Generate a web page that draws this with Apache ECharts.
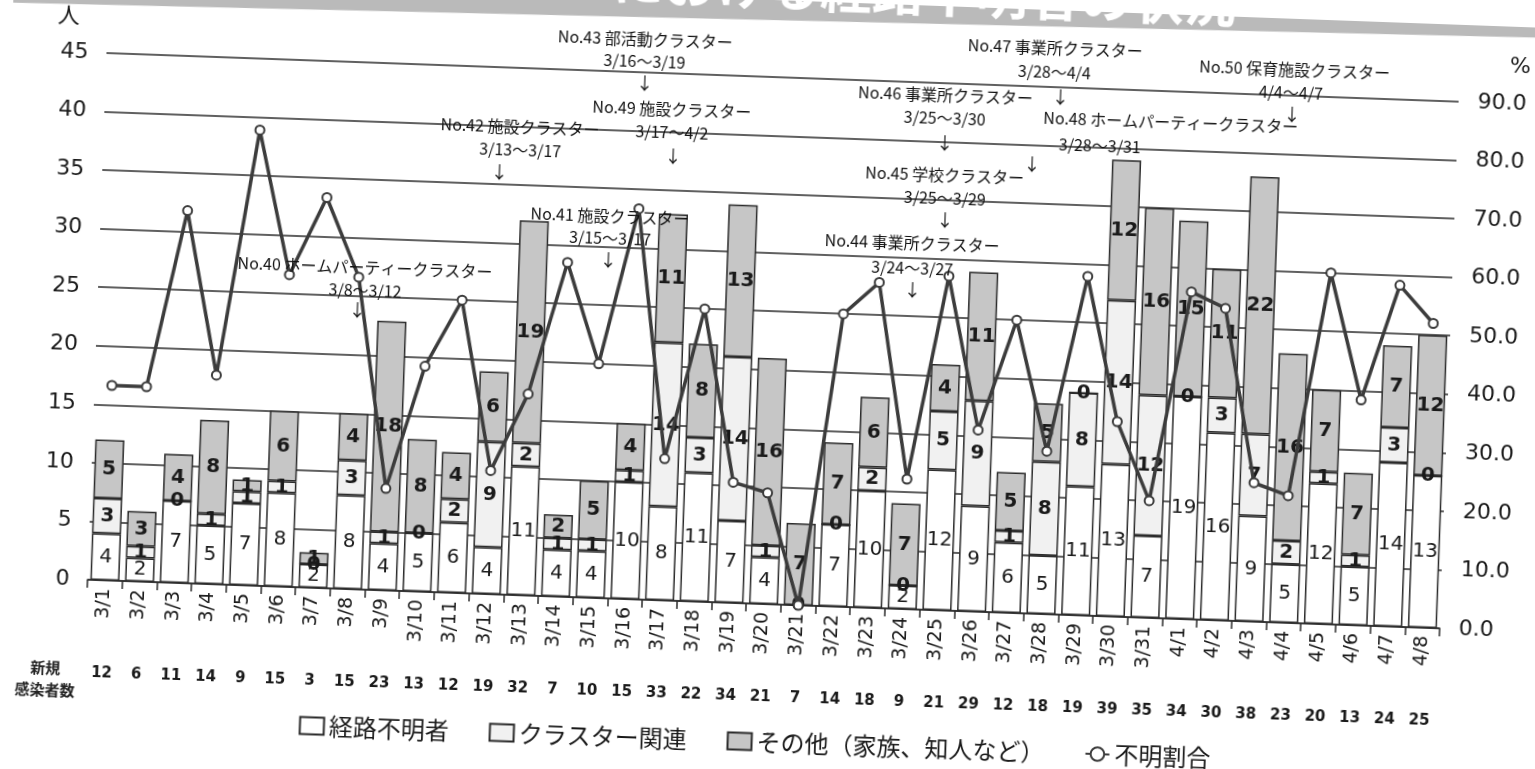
<!DOCTYPE html>
<html><head><meta charset="utf-8">
<script src="https://cdn.jsdelivr.net/npm/echarts@6/dist/echarts.min.js"></script>
<style>
html,body{margin:0;padding:0;background:#fff;overflow:hidden}
#c{width:1535px;height:769px;transform:rotate(2.06deg);transform-origin:767px 384px}
</style>
</head><body><div id="c"></div>
<script>
const categories = ['3/1','3/2','3/3','3/4','3/5','3/6','3/7','3/8','3/9','3/10','3/11','3/12','3/13','3/14','3/15','3/16','3/17','3/18','3/19','3/20','3/21','3/22','3/23','3/24','3/25','3/26','3/27','3/28','3/29','3/30','3/31','4/1','4/2','4/3','4/4','4/5','4/6','4/7','4/8'];
const unknownCases = [4,2,7,5,7,8,2,8,4,5,6,4,11,4,4,10,8,11,7,4,0,7,10,2,12,9,6,5,11,13,7,19,16,9,5,12,5,14,13];
const clusterCases = [3,1,0,1,1,1,0,3,1,0,2,9,2,1,1,1,14,3,14,1,0,0,2,0,5,9,1,8,8,14,12,0,3,7,2,1,1,3,0];
const otherCases   = [5,3,4,8,1,6,1,4,18,8,4,6,19,2,5,4,11,8,13,16,7,7,6,7,4,11,5,5,0,12,16,15,11,22,16,7,7,7,12];
const unknownRatio = [33.3,33.3,63.6,35.7,77.8,53.3,66.7,53.3,17.4,38.5,50.0,21.1,34.4,57.1,40.0,66.7,24.2,50.0,20.6,19.0,0.0,50.0,55.6,22.2,57.1,31.0,50.0,27.8,57.9,33.3,20.0,55.9,53.3,23.7,21.7,60.0,38.5,58.3,52.0];
const newCases     = [12,6,11,14,9,15,3,15,23,13,12,19,32,7,10,15,33,22,34,21,7,14,18,9,21,29,12,18,19,39,35,34,30,38,23,20,13,24,25];
const seriesNames  = ['経路不明者','クラスター関連','その他（家族、知人など）','不明割合'];
const annotationTitles = ['No.40 ホームパーティークラスター','No.41 施設クラスター','No.42 施設クラスター','No.43 部活動クラスター','No.44 事業所クラスター','No.45 学校クラスター','No.46 事業所クラスター','No.47 事業所クラスター','No.48 ホームパーティークラスター','No.49 施設クラスター','No.50 保育施設クラスター'];
const annotationDates  = ['3/8～3/12','3/15～3/17','3/13～3/17','3/16～3/19','3/24～3/27','3/25～3/29','3/25～3/30','3/28～4/4','3/28～3/31','3/17～4/2','4/4～4/7'];
// layout: [titleX,titleY,dateX,dateY,arrowX,arrowY]
const annotationLayout = [
  [361,282,362,305,355,325],
  [604,222,605,244,604,266],
  [511,136,512,159,492,182],
  [633,44,633,66,634,88],
  [907,238,908,263,909,285],
  [937,169,938,192,939,214],
  [935,89,935,112,936,137],
  [1043,38,1043,62,1050,87],
  [1161,108,1091,134,1024,155],
  [662,113,663,136,665,160],
  [1283,51,1280,74,1282,96]
];

const NUM_FONT = 'DejaVu Sans';
const JP_FONT = '"Noto Sans CJK JP"';

const graphics = [];
graphics.push({type:'rect', z:1, originX:767, originY:20, rotation:0.013,
  shape:{x:-200,y:-120,width:2000,height:140}, style:{fill:'#bababa'}});
graphics.push({type:'text', z:2, x:1222, y:-14, style:{text:'における経路不明者の状況', fill:'#ffffff',
  font:'bold 52px ' + JP_FONT, textAlign:'right', textVerticalAlign:'middle'}});
graphics.push({type:'text', z:2, x:56, y:693, style:{text:'新規', fill:'#222', font:'bold 15px ' + JP_FONT, textAlign:'center', textVerticalAlign:'middle'}});
graphics.push({type:'text', z:2, x:56, y:715, style:{text:'感染者数', fill:'#222', font:'bold 15px ' + JP_FONT, textAlign:'center', textVerticalAlign:'middle'}});
annotationTitles.forEach((t,i)=>{
  const L = annotationLayout[i];
  graphics.push({type:'text', z:50, x:L[0], y:L[1], style:{text:t, fill:'#111', font:'16px ' + JP_FONT, textAlign:'center', textVerticalAlign:'middle'}});
  graphics.push({type:'text', z:50, x:L[2], y:L[3], style:{text:annotationDates[i], fill:'#111', font:'16px ' + JP_FONT, textAlign:'center', textVerticalAlign:'middle'}});
  graphics.push({type:'text', z:50, x:L[4], y:L[5], style:{text:'↓', fill:'#111', font:'17px ' + JP_FONT, textAlign:'center', textVerticalAlign:'middle'}});
});

const barCommon = {
  type:'bar', stack:'total', barWidth:'84%',
  label:{show:true, position:'inside', color:'#1a1a1a', fontFamily:NUM_FONT, fontSize:20}
};

const chart = echarts.init(document.getElementById('c'), null, {renderer:'canvas'});
chart.setOption({
  animation:false,
  backgroundColor:'#ffffff',
  grid:{left:95, right:87, top:77, bottom:165},
  legend:{
    data:[{name:seriesNames[0], icon:'rect'},{name:seriesNames[1], icon:'rect'},{name:seriesNames[2], icon:'rect'},{name:seriesNames[3]}],
    bottom:10, left:'center', itemGap:40, itemWidth:24, itemHeight:17,
    textStyle:{fontFamily:JP_FONT, fontSize:24, color:'#1a1a1a'}
  },
  xAxis:[{
    type:'category', data:categories, position:'bottom',
    axisLine:{lineStyle:{color:'#2b2b2b', width:1.5}},
    axisTick:{show:true, length:8, lineStyle:{color:'#2b2b2b', width:1.5}},
    axisLabel:{rotate:90, interval:0, margin:8, fontFamily:NUM_FONT, fontSize:19, color:'#1a1a1a'}
  },{
    type:'category', data:categories, position:'bottom', offset:86,
    axisLine:{show:false}, axisTick:{show:false},
    axisLabel:{interval:0, margin:0, fontFamily:NUM_FONT, fontWeight:'bold', fontSize:15, color:'#1a1a1a',
      formatter:(v,i)=>String(newCases[i])}
  }],
  yAxis:[{
    type:'value', min:0, max:45, interval:5, name:'人', nameLocation:'end', nameGap:26,
    nameTextStyle:{fontFamily:JP_FONT, fontSize:22, color:'#1a1a1a', align:'right', padding:[0,28,0,0]},
    axisLine:{show:false}, axisTick:{show:false},
    axisLabel:{margin:18, fontFamily:NUM_FONT, fontSize:22, color:'#1a1a1a'},
    splitLine:{show:true, lineStyle:{color:'#2b2b2b', width:1.5}}
  },{
    type:'value', min:0, max:90, interval:10, name:'%', nameLocation:'end', nameGap:26,
    nameTextStyle:{fontFamily:NUM_FONT, fontSize:22, color:'#1a1a1a', align:'left', padding:[0,0,0,50]},
    axisLine:{show:false}, axisTick:{show:false}, splitLine:{show:false},
    axisLabel:{margin:19, fontFamily:NUM_FONT, fontSize:22, color:'#1a1a1a', formatter:v=>v.toFixed(1)}
  }],
  graphic:graphics,
  series:[
    Object.assign({}, barCommon, {name:seriesNames[0], data:unknownCases,
      itemStyle:{color:'#ffffff', borderColor:'#2b2b2b', borderWidth:1.5}}),
    Object.assign({}, barCommon, {name:seriesNames[1], data:clusterCases,
      itemStyle:{color:'#f1f1f1', borderColor:'#2b2b2b', borderWidth:1.5},
      label:Object.assign({}, barCommon.label, {fontWeight:'bold'})}),
    Object.assign({}, barCommon, {name:seriesNames[2], data:otherCases,
      itemStyle:{color:'#c6c6c6', borderColor:'#2b2b2b', borderWidth:1.5},
      label:Object.assign({}, barCommon.label, {fontWeight:'bold'})}),
    {name:seriesNames[3], type:'line', yAxisIndex:1, data:unknownRatio, z:10,
      symbol:'circle', symbolSize:9,
      lineStyle:{color:'#3c3c3c', width:3.5},
      itemStyle:{color:'#ffffff', borderColor:'#3c3c3c', borderWidth:2}}
  ]
});
</script>
</body></html>
